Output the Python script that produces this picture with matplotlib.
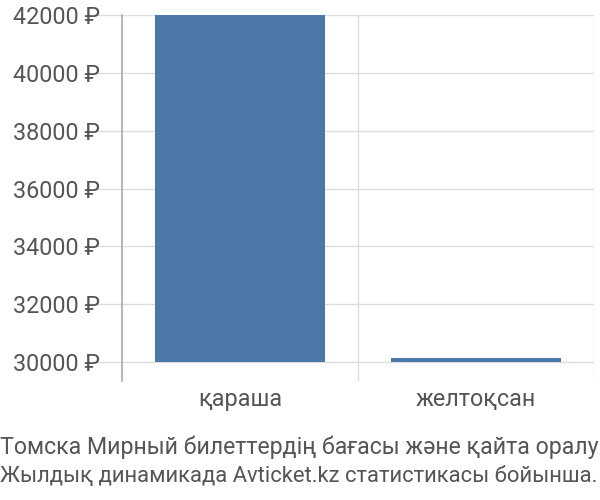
import matplotlib
matplotlib.use("Agg")
import matplotlib.pyplot as plt

months = ["қараша", "желтоқсан"]
prices = [42000, 30140]
base = 30000
yticks = [30000, 32000, 34000, 36000, 38000, 40000, 42000]
title_lines = ["Томска Мирный билеттердің бағасы және қайта оралу",
               "Жылдық динамикада Avticket.kz статистикасы бойынша."]

plt.rcParams['font.family'] = ['Roboto', 'DejaVu Sans']
text_color = '#555555'
grid_color = '#dddddd'

fig = plt.figure(figsize=(6, 5), dpi=100)
ax = fig.add_axes([122/600, (500-381)/500, (594-122)/600, (381-15)/500])

x = range(len(months))
ax.bar(x, [p - base for p in prices], bottom=base, width=0.72,
       color='#4c78a8', zorder=3)

ax.set_xlim(-0.5, len(months) - 0.5)
ax.set_ylim(29343, 42000)
ax.set_yticks(yticks)
ax.set_yticklabels([f"{v} ₽" for v in yticks], fontsize=16.8, color=text_color)
ax.set_xticks([i + 0.5 for i in x], minor=False)
ax.set_xticklabels([])
ax.set_xticks(list(x), minor=True)
ax.set_xticklabels(months, minor=True, fontsize=16.8, color=text_color)
ax.tick_params(axis='x', which='major', length=0)
ax.tick_params(axis='x', which='minor', length=0, pad=5)
ax.tick_params(axis='y', length=20, color=grid_color, width=1, pad=-4)

ax.grid(True, which='major', color=grid_color, linewidth=1, zorder=0)
for s in ['top', 'right', 'bottom']:
    ax.spines[s].set_visible(False)
ax.spines['left'].set_color('#aaaaaa')
ax.spines['left'].set_linewidth(1.2)

fig.text(0, 1 - 447/500, title_lines[0], fontsize=16.7, color=text_color,
         ha='left', va='center')
fig.text(0, 1 - 476/500, title_lines[1], fontsize=15.8, color=text_color,
         ha='left', va='center')

fig.savefig("out.png", dpi=100)
